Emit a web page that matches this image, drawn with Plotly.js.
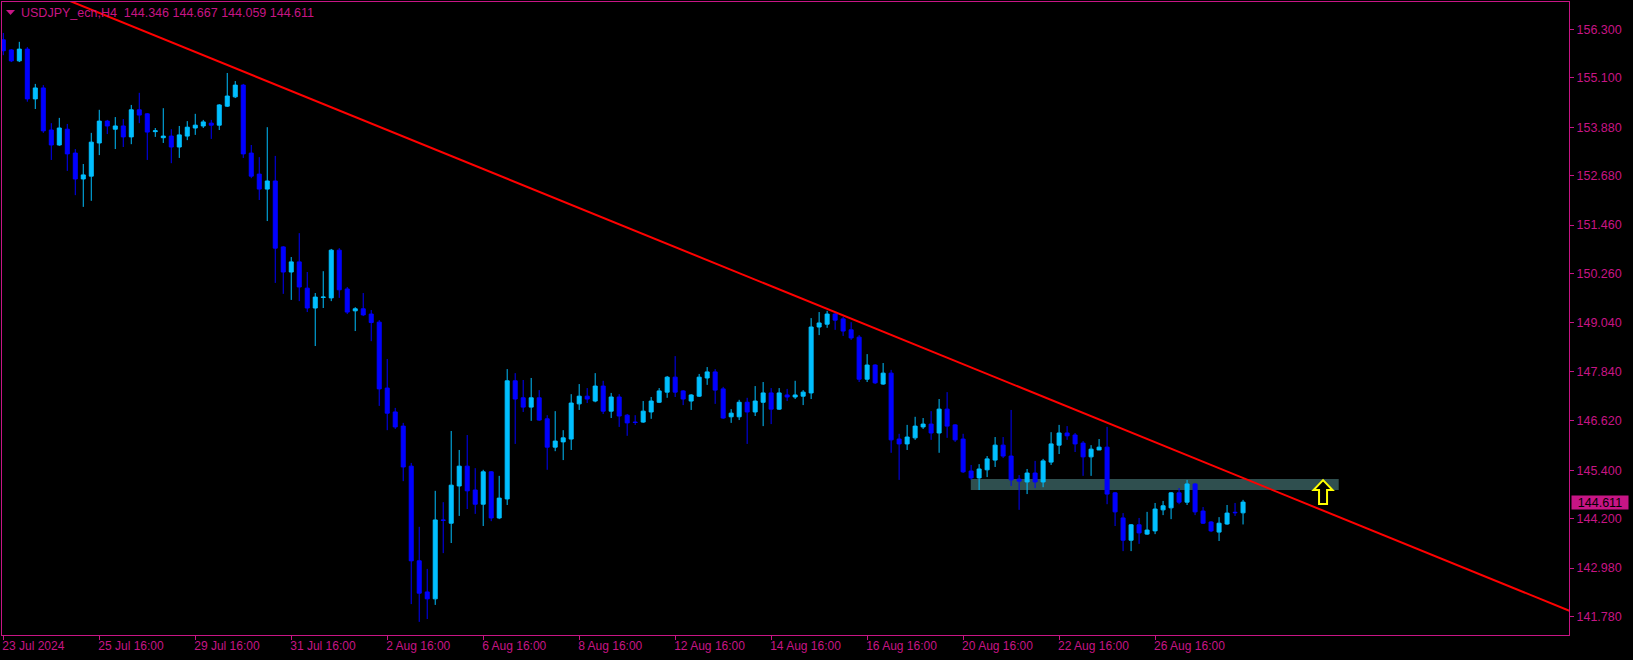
<!DOCTYPE html>
<html>
<head>
<meta charset="utf-8">
<script src="https://cdn.plot.ly/plotly-3.0.1.min.js"></script>
<style>
  html, body { margin: 0; padding: 0; background: #000000; }
  #chart { width: 1633px; height: 660px; }
</style>
</head>
<body>
<div id="chart"></div>
<script>
// ---- USDJPY_ecn, H4 candles (left to right) ----
const openP = [
  156.04,155.79,155.52,155.81,154.58,154.85,153.81,153.44,153.83,153.24,
  152.60,152.67,153.49,154.03,153.83,153.91,153.64,154.31,154.21,153.77,
  153.62,153.66,153.39,153.66,153.86,153.91,153.98,153.93,154.40,154.63,
  154.92,153.24,152.72,152.35,152.55,150.92,150.30,150.55,149.90,149.41,
  149.67,149.66,150.84,149.88,149.34,149.39,149.26,149.06,147.43,146.84,
  146.49,145.50,143.16,142.39,142.22,144.17,144.09,145.01,145.50,144.91,
  144.56,145.36,144.22,144.69,147.61,147.19,146.96,147.19,146.67,145.97,
  146.10,146.17,147.04,147.23,147.11,147.48,146.86,147.21,146.76,146.59,
  146.59,146.84,147.08,147.33,147.70,147.36,147.11,147.23,147.68,147.83,
  147.41,146.72,146.72,147.08,146.84,147.08,147.31,146.91,147.26,147.21,
  147.23,147.31,148.94,149.01,149.26,149.14,148.87,148.69,147.65,148.00,
  147.53,147.80,146.17,146.05,146.20,146.47,146.54,146.32,146.91,146.52,
  146.17,145.38,145.21,145.41,145.65,146.02,145.75,145.18,145.11,145.33,
  145.11,145.60,146.02,146.32,146.27,146.07,145.73,145.90,145.97,144.84,
  144.22,143.67,144.05,143.82,143.90,144.42,144.47,144.84,144.61,145.06,
  144.39,144.12,143.87,144.07,144.36,144.346
];
const highP = [
  156.21,155.81,155.99,155.86,154.95,154.92,153.98,154.11,153.96,153.34,
  152.97,153.74,154.31,154.06,154.13,154.08,154.43,154.73,154.23,153.86,
  154.35,153.83,153.91,154.03,154.21,154.06,154.06,154.45,155.22,155.02,
  154.95,153.44,153.14,153.88,153.17,150.94,150.67,151.26,150.30,149.78,
  150.32,150.87,150.89,149.93,149.43,149.78,149.36,149.11,148.15,146.94,
  146.57,145.58,144.00,142.96,144.89,144.61,146.37,145.90,146.27,145.45,
  145.41,145.38,145.26,147.90,147.80,147.63,147.68,147.38,146.76,146.86,
  146.39,147.28,147.53,147.43,147.80,147.61,147.31,147.28,146.79,146.76,
  147.11,147.21,147.43,147.73,148.22,147.38,147.28,147.78,147.95,147.90,
  147.46,146.91,147.14,147.19,147.48,147.58,147.43,147.43,147.41,147.61,
  147.38,149.16,149.31,149.34,149.29,149.19,149.06,148.74,148.27,148.02,
  148.05,147.88,146.30,146.52,146.72,146.69,146.86,147.16,147.33,146.54,
  146.30,145.53,145.55,145.75,146.22,146.22,146.89,145.28,145.43,145.63,
  145.68,146.34,146.52,146.49,146.32,146.12,146.02,146.17,146.47,144.86,
  144.34,144.07,144.22,144.37,144.59,144.64,144.86,144.96,145.16,145.08,
  144.49,144.14,144.24,144.54,144.59,144.667
];
const lowP = [
  155.66,155.49,155.49,154.51,154.33,153.74,153.07,153.42,152.80,152.20,
  151.91,152.06,153.19,153.71,153.34,153.39,153.46,153.98,153.07,153.64,
  153.49,152.99,153.12,153.56,153.69,153.86,153.59,153.81,154.38,154.60,
  153.12,152.62,152.08,151.56,150.03,149.76,149.61,149.58,149.31,148.47,
  149.41,149.58,149.66,149.26,148.84,149.21,148.59,146.99,146.39,146.42,
  145.13,142.09,141.65,141.72,142.07,143.35,143.60,144.27,144.44,144.32,
  144.02,144.14,144.19,144.54,146.05,146.84,146.62,146.62,145.41,145.87,
  145.65,145.90,146.89,147.06,147.08,146.79,146.69,146.47,146.25,146.52,
  146.57,146.67,147.06,147.19,147.21,147.01,146.89,147.21,147.51,147.04,
  146.67,146.57,146.64,146.05,146.74,146.49,146.54,146.89,147.11,147.16,
  147.01,147.16,148.74,148.92,148.87,148.72,148.62,147.58,147.58,147.53,
  147.51,145.83,145.16,145.90,146.15,146.42,146.15,145.83,146.20,146.10,
  145.33,145.16,144.91,145.23,145.48,145.70,145.01,144.42,144.81,144.96,
  144.98,145.53,145.80,146.15,145.85,145.26,145.26,145.90,144.56,144.02,
  143.40,143.40,143.58,143.80,143.82,144.29,144.19,144.56,144.54,144.29,
  144.07,143.87,143.65,144.05,144.27,144.059
];
const closeP = [
  155.77,155.52,155.81,154.58,154.85,153.79,153.44,153.86,153.22,152.60,
  152.70,153.51,154.03,153.91,153.91,153.64,154.31,154.18,153.76,153.79,
  153.66,153.39,153.69,153.88,153.93,154.01,153.93,154.43,154.65,154.92,
  153.22,152.67,152.35,152.55,150.89,150.30,150.55,149.93,149.41,149.68,
  149.68,150.84,149.86,149.31,149.39,149.24,149.05,147.41,146.81,146.47,
  145.48,143.16,142.36,142.22,144.17,144.16,145.03,145.50,144.89,144.56,
  145.36,144.22,144.71,147.61,147.16,146.96,147.19,146.64,145.97,146.12,
  146.20,147.06,147.23,147.16,147.48,146.86,147.21,146.74,146.57,146.58,
  146.86,147.11,147.36,147.70,147.33,147.16,147.26,147.70,147.83,147.38,
  146.69,146.81,147.08,146.84,147.11,147.31,146.91,147.31,147.21,147.26,
  147.33,148.94,149.04,149.26,149.11,148.84,148.67,147.65,148.00,147.56,
  147.80,146.15,146.05,146.22,146.49,146.54,146.32,146.91,146.49,146.15,
  145.36,145.21,145.43,145.68,146.02,145.75,145.16,145.13,145.33,145.11,
  145.63,146.05,146.32,146.25,146.05,145.73,145.92,145.97,144.81,144.37,
  143.67,144.05,143.85,143.92,144.44,144.52,144.84,144.61,145.06,144.37,
  144.09,143.90,144.09,144.34,144.35,144.611
];

// ---- axis labels ----
const timeTickBars = [0, 12, 24, 36, 48, 60, 72, 84, 96, 108, 120, 132, 144];
const timeTickLabels = ["23 Jul 2024", "25 Jul 16:00", "29 Jul 16:00", "31 Jul 16:00",
  "2 Aug 16:00", "6 Aug 16:00", "8 Aug 16:00", "12 Aug 16:00", "14 Aug 16:00",
  "16 Aug 16:00", "20 Aug 16:00", "22 Aug 16:00", "26 Aug 16:00"];
const priceTicks = [156.300, 155.100, 153.880, 152.680, 151.460, 150.260, 149.040,
  147.840, 146.620, 145.400, 144.200, 142.980, 141.780];

// ---- drawn objects ----
const trendBars = [0, 196];
const trendPrices = [157.67, 141.91];
const zoneBars = [120.96, 166.96];
const zonePrices = [144.91, 145.18];
const arrowBar = 165;
const arrowPrice = 145.18;
const lastPrice = 144.611;
const headerText = "USDJPY_ecn,H4  144.346 144.667 144.059 144.611";

const MAG = "#C71585";
const FONT = "Liberation Sans, Arial, sans-serif";
const barIndex = openP.map((_, i) => i);

const candles = {
  type: "candlestick",
  x: barIndex,
  open: openP, high: highP, low: lowP, close: closeP,
  increasing: { line: { color: "#00BFFF", width: 1 }, fillcolor: "#00BFFF" },
  decreasing: { line: { color: "#0000FF", width: 1 }, fillcolor: "#0000FF" },
  whiskerwidth: 0,
  hoverinfo: "skip",
  showlegend: false
};

const trend = {
  type: "scatter", mode: "lines",
  x: trendBars, y: trendPrices,
  line: { color: "#FF0000", width: 2 },
  hoverinfo: "skip", showlegend: false
};

const layout = {
  width: 1633, height: 660,
  margin: { l: 2, r: 64, t: 2, b: 25, pad: 0 },
  paper_bgcolor: "#000000",
  plot_bgcolor: "#000000",
  showlegend: false,
  boxgap: 0.5, boxgroupgap: 0,
  font: { family: FONT, color: MAG, size: 12.5 },
  xaxis: {
    range: [-0.1625, 195.75],
    rangeslider: { visible: false },
    showgrid: false, zeroline: false,
    showline: true, linecolor: MAG, linewidth: 1, mirror: true,
    ticks: "outside", ticklen: 4, tickcolor: MAG, tickwidth: 1,
    tickmode: "array", tickvals: timeTickBars, ticktext: timeTickLabels,
    ticklabelposition: "outside right",
    ticklabelshift: -2,
    tickfont: { family: FONT, color: MAG, size: 12 },
    fixedrange: true
  },
  yaxis: {
    side: "right",
    range: [141.326, 156.975],
    showgrid: false, zeroline: false,
    showline: true, linecolor: MAG, linewidth: 1, mirror: true,
    ticks: "outside", ticklen: 4, tickcolor: MAG, tickwidth: 1,
    tickmode: "array", tickvals: priceTicks,
    ticktext: priceTicks.map(v => v.toFixed(3)),
    tickfont: { family: FONT, color: MAG, size: 12.5 },
    fixedrange: true
  },
  shapes: [
    {
      type: "rect", layer: "below", xref: "x", yref: "y",
      x0: zoneBars[0], x1: zoneBars[1], y0: zonePrices[0], y1: zonePrices[1],
      fillcolor: "#2F4F4F", line: { width: 0 }
    },
    {
      type: "path", xref: "x", yref: "y",
      xsizemode: "pixel", ysizemode: "pixel",
      xanchor: arrowBar, yanchor: arrowPrice,
      path: "M 0 -1 L 9.5 -11 L 4 -11 L 4 -25 L -4 -25 L -4 -11 L -9.5 -11 Z",
      fillcolor: "#000000", line: { color: "#FFFF00", width: 2 }
    },
    {
      type: "path", xref: "paper", yref: "paper",
      xsizemode: "pixel", ysizemode: "pixel",
      xanchor: 0, yanchor: 1,
      path: "M 4 -8 L 13 -8 L 8.5 -13 Z",
      fillcolor: MAG, line: { width: 0 }
    }
  ],
  annotations: [
    {
      xref: "paper", yref: "paper", x: 0, y: 1,
      xanchor: "left", yanchor: "middle",
      xshift: 17, yshift: -10.5,
      text: headerText, showarrow: false,
      font: { family: FONT, color: MAG, size: 12.5 }
    },
    {
      xref: "paper", yref: "y", x: 1, y: lastPrice,
      xanchor: "left", yanchor: "middle", xshift: 2,
      text: lastPrice.toFixed(3), showarrow: false,
      bgcolor: MAG, borderpad: 0, width: 56, height: 13, align: "center",
      font: { family: FONT, color: "#000000", size: 12.5 }
    }
  ]
};

Plotly.newPlot("chart", [candles, trend], layout, { staticPlot: true, displayModeBar: false });
</script>
</body>
</html>
